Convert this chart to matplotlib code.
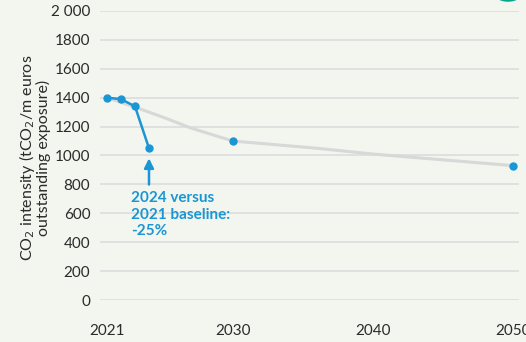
import matplotlib
matplotlib.use("Agg")
import matplotlib.pyplot as plt
from matplotlib.patches import Circle
import numpy as np

# Data
actual_years = [2021, 2022, 2023, 2024]
actual_values = [1400, 1390, 1340, 1050]
path_years = [2021, 2023, 2025, 2027, 2030, 2033, 2036, 2040, 2045, 2050]
path_values = [1400, 1335, 1265, 1190, 1100, 1075, 1050, 1010, 970, 930]
target_years = [2030, 2050]
target_values = [1100, 930]
xticks = [2021, 2030, 2040, 2050]
yticks = [0, 200, 400, 600, 800, 1000, 1200, 1400, 1600, 1800, 2000]
ytick_labels = ["0", "200", "400", "600", "800", "1000", "1200", "1400", "1600", "1800", "2 000"]

BG = "#f2f6ee"
BLUE = "#1a96d4"
GRAY = "#d8d8d8"
TEXT = "#2b2b2b"

plt.rcParams['font.family'] = ['Lato', 'DejaVu Sans']

W, H = 526, 342
fig = plt.figure(figsize=(W / 100, H / 100), dpi=100, facecolor=BG)
x0, x1 = 100, 519
y_top, y_bot = 11, 300
ax = fig.add_axes([x0 / W, 1 - y_bot / H, (x1 - x0) / W, (y_bot - y_top) / H], facecolor=BG)

px_per_year = 14.0
xmin = 2021 - (107 - x0) / px_per_year
xmax = 2021 + (x1 - 107) / px_per_year
ax.set_xlim(xmin, xmax)
ax.set_ylim(0, 2000)

ax.set_yticks(yticks)
ax.set_yticklabels(ytick_labels)
ax.grid(axis='y', color='#dcdcdc', linewidth=1.2)
ax.set_axisbelow(True)
for s in ax.spines.values():
    s.set_visible(False)
ax.tick_params(axis='both', length=0, labelsize=11, colors=TEXT)
ax.tick_params(axis='y', pad=7)
ax.tick_params(axis='x', pad=17)
ax.set_xticks(xticks)
ax.set_xticklabels([str(x) for x in xticks])

ax.plot(path_years, path_values, color=GRAY, linewidth=2.2, zorder=2, clip_on=False)
ax.plot(target_years, target_values, 'o', color=BLUE, markersize=5, zorder=3, clip_on=False)
ax.plot(actual_years, actual_values, '-o', color=BLUE, linewidth=1.8, markersize=5, zorder=4, clip_on=False)

ax.annotate("", xy=(2024, 1000), xytext=(2024, 780),
            arrowprops=dict(arrowstyle='-|>', color=BLUE, lw=1.8, mutation_scale=14), zorder=5)
ax.text(2022.7, 755, "2024 versus\n2021 baseline:\n-25%", color=BLUE, fontsize=11,
        fontweight='bold', va='top', ha='left', linespacing=1.25)

fig.text(34 / W, 1 - 158 / H, "CO$_2$ intensity (tCO$_2$/m euros\noutstanding exposure)",
         rotation=90, ha='center', va='center', fontsize=11.5, color=TEXT, linespacing=0.9)

fig.patches.append(Circle((508 / W, 1 + 8 / H), 15 / W, transform=fig.transFigure,
                          facecolor='#0aa58c', edgecolor='none'))

fig.savefig("out.png", dpi=100, facecolor=BG)
